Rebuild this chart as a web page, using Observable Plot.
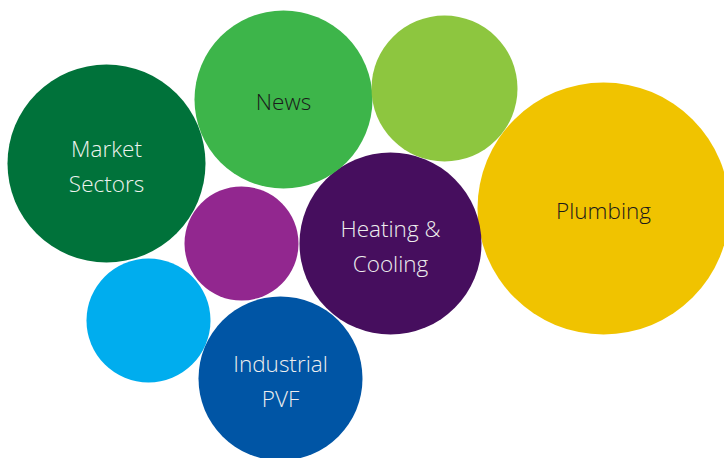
<!DOCTYPE html>
<html>
<head>
<meta charset="utf-8">
<script src="https://cdn.jsdelivr.net/npm/d3@7"></script>
<script src="https://cdn.jsdelivr.net/npm/@observablehq/plot@0.6"></script>
<style>
  html, body { margin: 0; padding: 0; background: #fff; }
  #chart svg { display: block; }
</style>
</head>
<body>
<div id="chart"></div>
<script>
const names   = ["Market\nSectors", "News", "", "Plumbing", "", "Heating &\nCooling", "", "Industrial\nPVF"];
const xs      = [106, 283, 444, 603, 241, 390, 148, 280];
const ys      = [163, 99, 88, 208, 243, 243, 320, 378];
const radii   = [99, 89, 73, 126, 57, 91, 62, 82];
const colors  = ["#00723a", "#3db54a", "#8dc63f", "#f0c300", "#92278f", "#460e5e", "#00adee", "#0055a5"];
const labelColors = ["#eef2ee", "#1a1a1a", "#1a1a1a", "#1a1a1a", "#eeeeee", "#eeeeee", "#eeeeee", "#eeeeee"];

const data = names.map((n, i) => ({
  name: n, x: xs[i], y: ys[i], r: radii[i], color: colors[i], label: labelColors[i]
}));

const chart = Plot.plot({
  width: 724,
  height: 458,
  margin: 0,
  x: {domain: [0, 724], range: [0, 724], axis: null},
  y: {domain: [0, 458], range: [0, 458], axis: null},
  r: {type: "linear", domain: [0, 130], range: [0, 130]},
  style: {fontFamily: "'Open Sans', 'Noto Sans', sans-serif", background: "#fff"},
  marks: [
    Plot.dot(data, {x: "x", y: "y", r: "r", fill: "color", stroke: "none"}),
    Plot.text(data.filter(d => d.name), {
      x: "x", y: "y", text: "name", fill: "label",
      fontSize: 22.5, lineHeight: 1.52, textAnchor: "middle", fontWeight: 300
    })
  ]
});
document.getElementById("chart").append(chart);
</script>
</body>
</html>
